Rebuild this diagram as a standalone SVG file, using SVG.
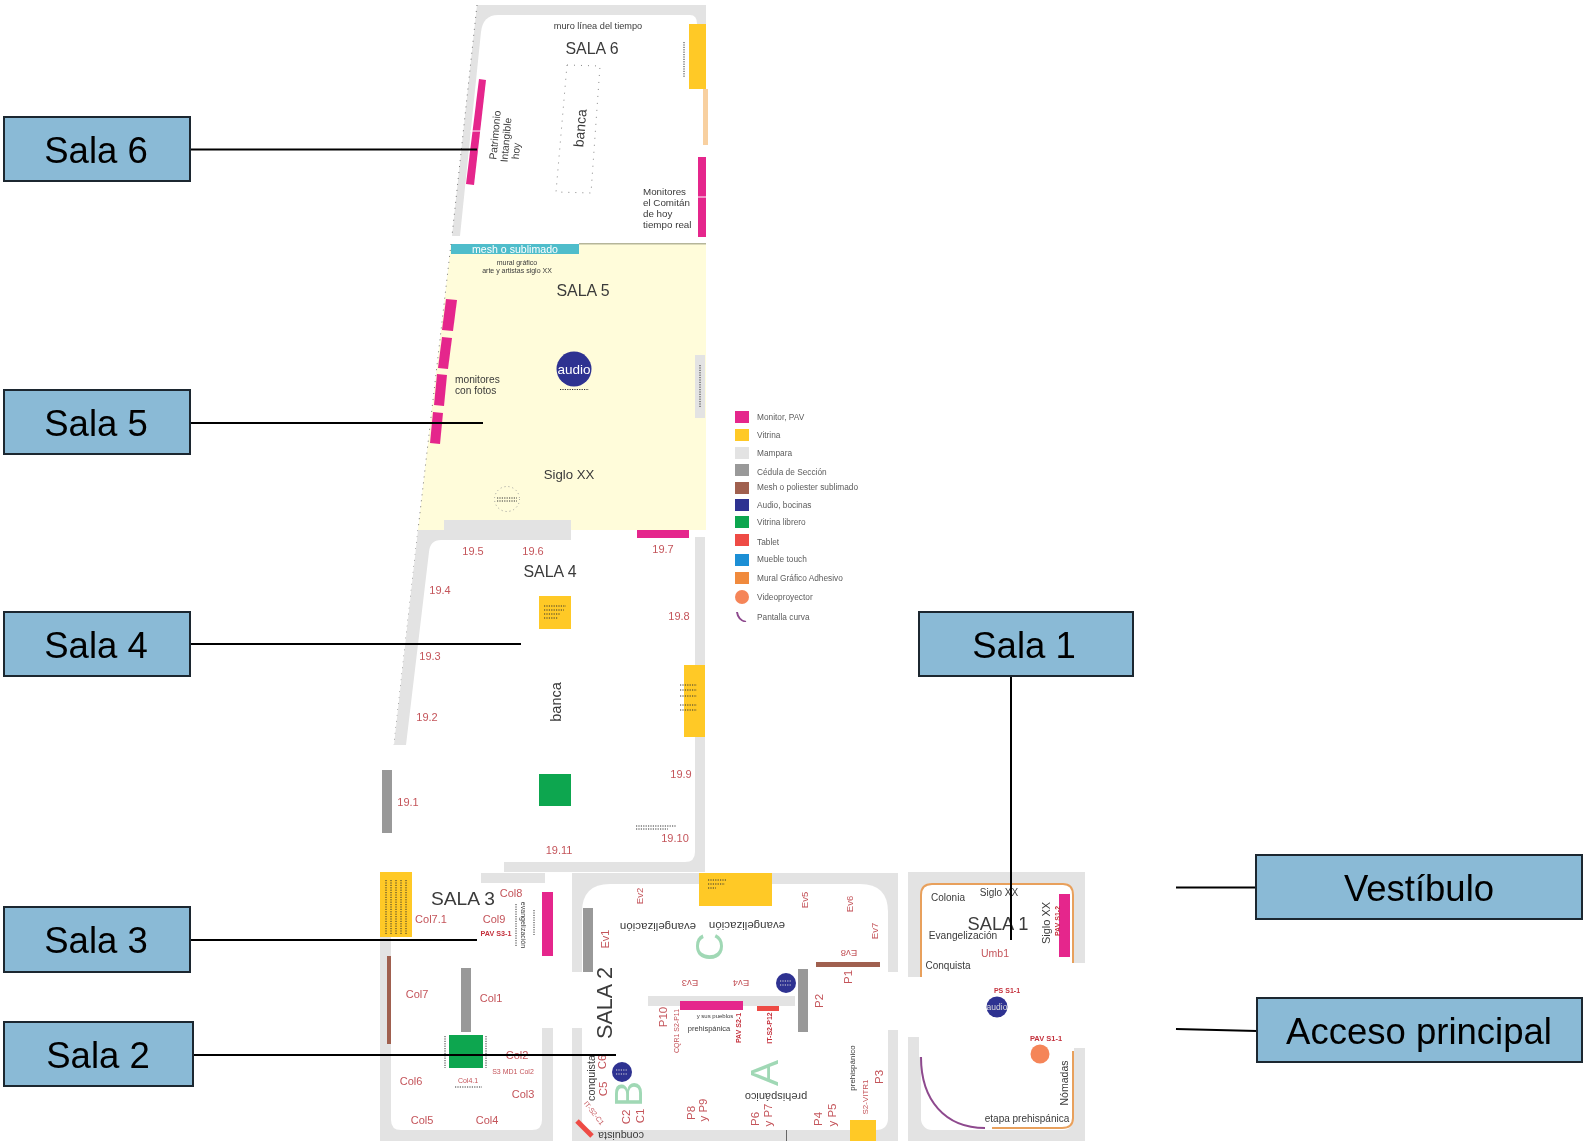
<svg xmlns="http://www.w3.org/2000/svg" width="1583" height="1141" viewBox="0 0 1583 1141">
<defs><filter id="soft" x="0" y="0" width="100%" height="100%" filterUnits="objectBoundingBox"><feGaussianBlur stdDeviation="0.4"/></filter></defs>
<style>
text{font-family:"Liberation Sans",Arial,sans-serif;text-anchor:middle;dominant-baseline:central;fill:#3a3a3a}
.m{fill:#E5258C}.v{fill:#FFC926}.g{fill:#E3E3E3}.c{fill:#999}.w{fill:#fff}.b{fill:#A0604F}.gr{fill:#0DA650}.a{fill:#2E3191}.t{fill:#EE4B45}
.r{fill:#C4545A}.rb{fill:#C4303C;font-weight:bold}.l{fill:#A0D8B5}
.leg{text-anchor:start;fill:#5c5c5c;font-size:8.300px}
.left{text-anchor:start}
.box{fill:#8ABAD6;stroke:#1c2730;stroke-width:2}
.boxt{font-size:36.500px;fill:#000}
.con{stroke:#000;stroke-width:2;fill:none}
.tiny{stroke:#333;stroke-width:1;stroke-dasharray:1.2 1.2;fill:none}
.dot{stroke:#777;stroke-width:1;stroke-dasharray:1 5;fill:none}
</style>
<rect width="1583" height="1141" fill="#fff"/>
<g id="plano" filter="url(#soft)">
<rect width="1100" height="1141" fill="#fff"/>
<!-- Sala 6 -->
<polygon class="g" points="477,5 706,5 706,40 690,40 460,236 452,236"/>
<path class="w" d="M460,236L481,32Q483,15 498,15L690,15Q697,15 697,24L697,240L460,240Z"/>
<rect class="w" x="697" y="40" width="9" height="200"/>
<polyline class="dot" points="477,5 452,236"/>
<rect class="v" x="689" y="24" width="17" height="65"/>
<rect x="703" y="89" width="5" height="56" fill="#F8D0A0"/>
<rect class="m" x="698" y="157" width="8" height="80"/>
<rect class="w" x="698" y="196.500" width="8" height="1"/>
<polygon class="m" points="479,79 486,80 474,185 466,184"/>
<line x1="470" y1="131" x2="482" y2="131" stroke="#fff"/>
<line class="tiny" x1="684" y1="42" x2="684" y2="78"/>
<text x="598" y="26" font-size="9.200">muro línea del tiempo</text>
<text x="592" y="48" font-size="15.900">SALA 6</text>
<polygon points="567,65 600,66 591,193 556,192" fill="none" stroke="#888" stroke-width="1" stroke-dasharray="1 6"/>
<text font-size="14" transform="translate(580 128) rotate(-85)">banca</text>
<text font-size="10.300" transform="translate(495 135) rotate(-85)">Patrimonio</text>
<text font-size="10.300" transform="translate(506 140) rotate(-85)">Intangible</text>
<text font-size="10.300" transform="translate(516 151) rotate(-85)">hoy</text>
<text class="left" x="643" y="191" font-size="9.800">Monitores</text>
<text class="left" x="643" y="202" font-size="9.800">el Comitán</text>
<text class="left" x="643" y="213" font-size="9.800">de hoy</text>
<text class="left" x="643" y="224" font-size="9.800">tiempo real</text>
<!-- Sala 5 -->
<polygon points="451,244 706,244 706,530 418,530" fill="#FFFCDA"/>
<rect x="579" y="243" width="127" height="1.500" fill="#B5B59A"/>
<rect x="451" y="244" width="128" height="10" fill="#4FBDCB"/>
<text x="515" y="249" font-size="10.600" style="fill:#fff">mesh o sublimado</text>
<text x="517" y="262" font-size="7">mural gráfico</text>
<text x="517" y="270" font-size="7">arte y artistas siglo XX</text>
<text x="583" y="290.500" font-size="15.900">SALA 5</text>
<polygon class="m" points="446,299 457,300 453,331 442,330"/>
<polygon class="m" points="442,337 452,338 448,369 438,368"/>
<polygon class="m" points="437,374 447,375 444,406 434,405"/>
<polygon class="m" points="433,412 443,413 440,444 430,443"/>
<text class="left" x="455" y="379" font-size="10.200">monitores</text>
<text class="left" x="455" y="390" font-size="10.200">con fotos</text>
<circle class="a" cx="574" cy="369" r="17.500"/>
<text x="574" y="369" font-size="13.500" style="fill:#fff">audio</text>
<line class="tiny" x1="560" y1="389.500" x2="589" y2="389.500"/>
<rect class="g" x="695" y="355" width="10" height="63"/>
<line class="tiny" x1="700" y1="365" x2="700" y2="408"/>
<text x="569" y="474.500" font-size="13.200">Siglo XX</text>
<circle cx="507" cy="499" r="12.500" fill="none" stroke="#999" stroke-dasharray="1 3"/>
<line class="tiny" x1="497" y1="498" x2="517" y2="498"/>
<line class="tiny" x1="497" y1="501" x2="517" y2="501"/>
<polyline class="dot" points="451,244 418,530 394,745"/>
<!-- Sala 4 -->
<rect class="g" x="444" y="520" width="127" height="10"/>
<path class="g" d="M418,530L571,530L571,540L441,540Q430,540 429,552L406,745L394,745Z"/>
<rect class="g" x="695" y="537" width="10" height="335"/>
<rect class="g" x="504" y="862" width="201" height="10"/>
<path class="g" d="M695,852Q695,862 685,862L695,862Z"/>
<rect class="m" x="637" y="530" width="52" height="8"/>
<rect class="v" x="539" y="596" width="32" height="33"/>
<g class="tiny"><line x1="544" y1="606" x2="566" y2="606"/><line x1="544" y1="610" x2="564" y2="610"/><line x1="544" y1="614" x2="560" y2="614"/><line x1="544" y1="618" x2="558" y2="618"/></g>
<rect class="v" x="684" y="665" width="21" height="72"/>
<g class="tiny"><line x1="680" y1="685" x2="697" y2="685"/><line x1="680" y1="690" x2="697" y2="690"/><line x1="680" y1="696" x2="697" y2="696"/><line x1="680" y1="705" x2="697" y2="705"/><line x1="680" y1="710" x2="697" y2="710"/></g>
<rect class="gr" x="539" y="774" width="32" height="32"/>
<rect class="c" x="382" y="770" width="10" height="63"/>
<line class="tiny" x1="636" y1="826" x2="676" y2="826"/>
<line class="tiny" x1="636" y1="829" x2="668" y2="829"/>
<text x="550" y="571.500" font-size="15.900">SALA 4</text>
<text font-size="14.500" transform="translate(556 702) rotate(-90)">banca</text>
<g font-size="11">
<text class="r" x="473" y="551">19.5</text><text class="r" x="533" y="551">19.6</text><text class="r" x="663" y="549">19.7</text>
<text class="r" x="440" y="590">19.4</text><text class="r" x="679" y="616">19.8</text><text class="r" x="430" y="656">19.3</text>
<text class="r" x="427" y="717">19.2</text><text class="r" x="681" y="774">19.9</text><text class="r" x="408" y="802">19.1</text>
<text class="r" x="675" y="838">19.10</text><text class="r" x="559" y="850">19.11</text>
</g>
<!-- Sala 3 -->
<rect class="g" x="481" y="873" width="64" height="10"/>
<rect class="g" x="380" y="937" width="11" height="204"/>
<rect class="g" x="380" y="1130" width="173" height="11"/>
<rect class="g" x="542" y="1028" width="11" height="113"/>
<path class="g" d="M391,1120Q391,1130 401,1130L391,1130Z"/>
<path class="g" d="M542,1120Q542,1130 532,1130L542,1130Z"/>
<rect class="v" x="380" y="872" width="32" height="65"/>
<g class="tiny"><line x1="386" y1="880" x2="386" y2="934"/><line x1="391" y1="880" x2="391" y2="934"/><line x1="396" y1="880" x2="396" y2="934"/><line x1="401" y1="880" x2="401" y2="934"/><line x1="406" y1="880" x2="406" y2="934"/></g>
<rect class="m" x="542" y="892" width="11" height="64"/>
<rect class="b" x="387" y="956" width="4" height="88"/>
<rect class="c" x="461" y="968" width="10" height="64"/>
<rect class="gr" x="449" y="1035" width="34" height="33"/>
<g class="tiny"><line x1="516" y1="904" x2="516" y2="946"/><line x1="534" y1="910" x2="534" y2="935"/><line x1="445" y1="1036" x2="445" y2="1068"/><line x1="486" y1="1036" x2="486" y2="1068"/></g>
<text font-size="7" transform="translate(523 925) rotate(90)">evangelización</text>
<text x="463" y="898" font-size="19.200">SALA 3</text>
<g font-size="11">
<text class="r" x="511" y="893">Col8</text><text class="r" x="431" y="919">Col7.1</text><text class="r" x="494" y="919">Col9</text>
<text class="r" x="417" y="994">Col7</text><text class="r" x="491" y="998">Col1</text><text class="r" x="517" y="1055">Col2</text>
<text class="r" x="411" y="1081">Col6</text><text class="r" x="523" y="1094">Col3</text><text class="r" x="422" y="1120">Col5</text><text class="r" x="487" y="1120">Col4</text>
</g>
<text class="rb" x="496" y="933" font-size="7.200">PAV S3-1</text>
<text class="r" x="513" y="1071" font-size="7">S3 MD1 Col2</text>
<text class="r" x="468" y="1080" font-size="7">Col4.1</text>
<line class="tiny" x1="455" y1="1087" x2="482" y2="1087"/>
<!-- Sala 2 -->
<rect class="g" x="572" y="873" width="326" height="268"/>
<path class="w" d="M582,912Q582,884 610,884L860,884Q888,884 888,912L888,1118Q888,1130 876,1130L592,1130Q582,1130 582,1120Z"/>
<rect class="w" x="572" y="972" width="11" height="56"/>
<rect class="w" x="887" y="972" width="11" height="58"/>
<rect class="v" x="699" y="873" width="73" height="33"/>
<g class="tiny"><line x1="708" y1="880" x2="727" y2="880"/><line x1="708" y1="884" x2="725" y2="884"/><line x1="708" y1="888" x2="716" y2="888"/></g>
<rect class="c" x="583" y="908" width="10" height="64"/>
<rect class="b" x="816" y="962" width="64" height="5"/>
<rect class="c" x="798" y="969" width="10" height="63"/>
<rect class="g" x="648" y="996" width="147" height="10"/>
<rect class="m" x="680" y="1001" width="63" height="9"/>
<rect class="t" x="757" y="1006" width="22" height="5"/>
<circle class="a" cx="786" cy="983" r="10"/>
<circle class="a" cx="622" cy="1072" r="10"/>
<g class="tiny" style="stroke:#ddd"><line x1="780" y1="981" x2="792" y2="981"/><line x1="780" y1="985" x2="792" y2="985"/><line x1="616" y1="1070" x2="628" y2="1070"/><line x1="616" y1="1074" x2="628" y2="1074"/></g>
<line x1="577" y1="1121" x2="592" y2="1136" stroke="#EE4B45" stroke-width="5"/>
<rect class="v" x="850" y="1120" width="26" height="21"/>
<line x1="786.500" y1="1130" x2="786.500" y2="1141" stroke="#666"/>
<g class="l" font-size="39">
<text class="l" transform="translate(709 947) rotate(-90)">C</text>
<text class="l" transform="translate(628 1094) rotate(-90)">B</text>
<text class="l" transform="translate(764 1073) rotate(-90)">A</text>
</g>
<text font-size="21.600" transform="translate(604 1003) rotate(-90)">SALA 2</text>
<text font-size="11.500" transform="translate(658 927) rotate(180)">evangelización</text>
<text font-size="11.500" transform="translate(747 926) rotate(180)">evangelización</text>
<text font-size="11" transform="translate(776 1097) rotate(180)">prehispánico</text>
<text font-size="10.700" transform="translate(591 1078) rotate(-90)">conquista</text>
<text font-size="10.700" transform="translate(621 1136) rotate(180)">conquista</text>
<text font-size="8" transform="translate(852 1068) rotate(-90)">prehispánico</text>
<text x="709" y="1028" font-size="7.500">prehispánica</text>
<text x="715" y="1016" font-size="6">y sus pueblos</text>
<g font-size="9.500">
<text class="r" transform="translate(639 896) rotate(-90)">Ev2</text><text class="r" transform="translate(804 900) rotate(-90)">Ev5</text>
<text class="r" transform="translate(849 904) rotate(-90)">Ev6</text><text class="r" transform="translate(874 931) rotate(-90)">Ev7</text>
<text class="r" transform="translate(605 939) rotate(-90)" font-size="11">Ev1</text>
<text class="r" transform="translate(849 953) rotate(180)">Ev8</text><text class="r" transform="translate(690 983) rotate(180)">Ev3</text><text class="r" transform="translate(741 983) rotate(180)">Ev4</text>
</g>
<g font-size="11.500">
<text class="r" transform="translate(848 977) rotate(-90)">P1</text><text class="r" transform="translate(819 1001) rotate(-90)">P2</text>
<text class="r" transform="translate(879 1077) rotate(-90)">P3</text><text class="r" transform="translate(663 1017) rotate(-90)">P10</text>
<text class="r" transform="translate(818 1119) rotate(-90)">P4</text><text class="r" transform="translate(832 1115) rotate(-90)">y P5</text>
<text class="r" transform="translate(755 1119) rotate(-90)">P6</text><text class="r" transform="translate(768 1115) rotate(-90)">y P7</text>
<text class="r" transform="translate(691 1113) rotate(-90)">P8</text><text class="r" transform="translate(703 1110) rotate(-90)">y P9</text>
<text class="r" transform="translate(640 1116) rotate(-90)">C1</text><text class="r" transform="translate(626 1117) rotate(-90)">C2</text>
<text class="r" transform="translate(603 1089) rotate(-90)">C5</text><text class="r" transform="translate(602 1062) rotate(-90)">C6</text>
</g>
<text class="r" font-size="7" transform="translate(676 1031) rotate(-90)">CQR1 S2-P11</text>
<text class="rb" font-size="7" transform="translate(738 1028) rotate(-90)">PAV S2-1</text>
<text class="rb" font-size="7" transform="translate(769 1028) rotate(-90)">IT-S2-P12</text>
<text class="r" font-size="8" transform="translate(865 1097) rotate(-90)">S2-VITR1</text>
<text class="r" font-size="7" transform="translate(594 1113) rotate(52)">IT-S2-C1</text>
<!-- Sala 1 -->
<rect class="g" x="908" y="872" width="177" height="269"/>
<rect class="w" x="921" y="883" width="153" height="247" rx="11"/>
<rect class="w" x="908" y="977" width="177" height="60"/>
<rect class="w" x="1074" y="963" width="11" height="85"/>
<rect class="w" x="919" y="1037" width="12" height="20"/>
<path d="M921,977V895Q921,884 932,884H1063Q1073,884 1073,895V963" fill="none" stroke="#E8A05C" stroke-width="2"/>
<path d="M1073,1051V1118Q1073,1128 1062,1128H992" fill="none" stroke="#E8A05C" stroke-width="2"/>
<path d="M921,1057C921,1100 945,1128 985,1128" fill="none" stroke="#8E4A8E" stroke-width="2"/>
<rect class="m" x="1059" y="894" width="11" height="63"/>
<circle class="a" cx="997" cy="1007" r="10.500"/>
<text x="997" y="1007" font-size="8.500" style="fill:#ddd">audio</text>
<circle cx="1040" cy="1054" r="9.500" fill="#F58559"/>
<text x="948" y="897" font-size="10">Colonia</text>
<text x="999" y="892" font-size="10">Siglo XX</text>
<text x="998" y="923" font-size="18.300">SALA 1</text>
<text x="963" y="935" font-size="10.200">Evangelización</text>
<text class="r" x="995" y="953" font-size="10.500">Umb1</text>
<text x="948" y="965" font-size="10">Conquista</text>
<text font-size="11" transform="translate(1046 923) rotate(-90)">Siglo XX</text>
<text class="rb" font-size="7" transform="translate(1057 921) rotate(-90)">PAV S1-2</text>
<text class="rb" x="1007" y="990" font-size="7">PS S1-1</text>
<text class="rb" x="1046" y="1038" font-size="7.500">PAV S1-1</text>
<text font-size="10.500" transform="translate(1064 1083) rotate(-90)">Nómadas</text>
<text x="1027" y="1118" font-size="10">etapa prehispánica</text>
</g>
<g id="leyenda" filter="url(#soft)">
<rect class="m" x="735" y="411" width="14" height="12"/><text class="leg" x="757" y="417">Monitor, PAV</text>
<rect class="v" x="735" y="429" width="14" height="12"/><text class="leg" x="757" y="435">Vitrina</text>
<rect class="g" x="735" y="447" width="14" height="12"/><text class="leg" x="757" y="453">Mampara</text>
<rect class="c" x="735" y="464" width="14" height="12"/><text class="leg" x="757" y="472">Cédula de Sección</text>
<rect class="b" x="735" y="482" width="14" height="12"/><text class="leg" x="757" y="487">Mesh o poliester sublimado</text>
<rect class="a" x="735" y="499" width="14" height="12"/><text class="leg" x="757" y="505">Audio, bocinas</text>
<rect class="gr" x="735" y="516" width="14" height="12"/><text class="leg" x="757" y="522">Vitrina librero</text>
<rect class="t" x="735" y="534" width="14" height="12"/><text class="leg" x="757" y="542">Tablet</text>
<rect x="735" y="554" width="14" height="12" fill="#1E8FD5"/><text class="leg" x="757" y="559">Mueble touch</text>
<rect x="735" y="572" width="14" height="12" fill="#F08A3C"/><text class="leg" x="757" y="578">Mural Gráfico Adhesivo</text>
<circle cx="742" cy="597" r="7" fill="#F58559"/><text class="leg" x="757" y="597">Videoproyector</text>
<path d="M737,612Q738,620 746,622" fill="none" stroke="#8E4A8E" stroke-width="2"/><text class="leg" x="757" y="617">Pantalla curva</text>
</g>
<g id="connectors">
<line class="con" x1="190" y1="149.500" x2="477" y2="149.500"/>
<line class="con" x1="190" y1="423" x2="483" y2="423"/>
<line class="con" x1="190" y1="644" x2="521" y2="644"/>
<line class="con" x1="190" y1="940" x2="477" y2="940"/>
<line class="con" x1="193" y1="1055" x2="616" y2="1055"/>
<line class="con" x1="1011" y1="675" x2="1011" y2="940"/>
<line class="con" x1="1176" y1="887.500" x2="1256" y2="887.500"/>
<line class="con" x1="1176" y1="1029" x2="1257" y2="1031"/>
</g>
<g id="sala6"><rect class="box" x="4" y="117" width="186" height="64"/><text class="boxt" x="96" y="150">Sala 6</text></g>
<g id="sala5"><rect class="box" x="4" y="390" width="186" height="64"/><text class="boxt" x="96" y="423">Sala 5</text></g>
<g id="sala4"><rect class="box" x="4" y="612" width="186" height="64"/><text class="boxt" x="96" y="645">Sala 4</text></g>
<g id="sala3"><rect class="box" x="4" y="907" width="186" height="65"/><text class="boxt" x="96" y="940">Sala 3</text></g>
<g id="sala2"><rect class="box" x="4" y="1022" width="189" height="64"/><text class="boxt" x="98" y="1055">Sala 2</text></g>
<g id="sala1"><rect class="box" x="919" y="612" width="214" height="64"/><text class="boxt" x="1024" y="645">Sala 1</text></g>
<g id="vestibulo"><rect class="box" x="1256" y="855" width="326" height="64"/><text class="boxt" x="1419" y="888">Vestíbulo</text></g>
<g id="acceso"><rect class="box" x="1257" y="998" width="325" height="64"/><text class="boxt" x="1419" y="1031">Acceso principal</text></g>
</svg>
